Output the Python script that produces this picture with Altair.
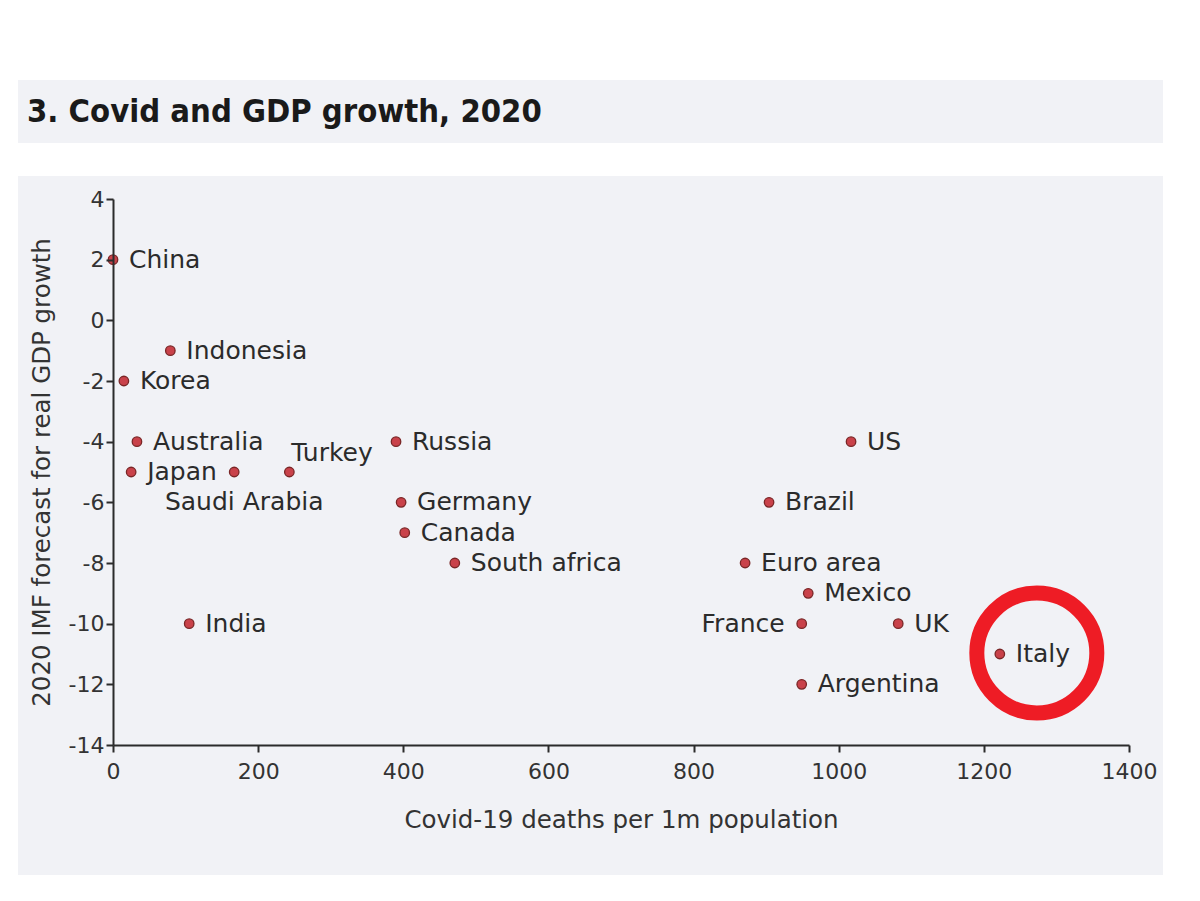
import pandas as pd
import altair as alt

# values
countries = ["China", "Indonesia", "Korea", "Australia", "Japan", "Saudi Arabia",
             "Turkey", "Russia", "Germany", "Canada", "South africa", "India",
             "US", "Brazil", "Euro area", "Mexico", "France", "UK", "Italy",
             "Argentina"]
deaths = [0, 79, 15, 33, 25, 167, 243, 390, 397, 402, 471, 105,
          1017, 904, 871, 958, 949, 1082, 1222, 949]
gdp = [2, -1, -2, -4, -5, -5, -5, -4, -6, -7, -8, -10,
       -4, -6, -8, -9, -10, -10, -11, -12]

x_ticks = [0, 200, 400, 600, 800, 1000, 1200, 1400]
y_ticks = [4, 2, 0, -2, -4, -6, -8, -10, -12, -14]

left_labels = ["France"]
below_labels = ["Saudi Arabia"]
above_labels = ["Turkey"]
highlight = "Italy"

title_text = "3. Covid and GDP growth, 2020"
x_title = "Covid-19 deaths per 1m population"
y_title = "2020 IMF forecast for real GDP growth"

TITLE_FONT = "DejaVu Sans Condensed, DejaVu Sans, sans-serif"
FONT = "DejaVu Sans, sans-serif"
BOX = "#f1f2f6"
INK = "#2b2b2b"

df = pd.DataFrame({"country": countries, "deaths": deaths, "gdp": gdp})
one = pd.DataFrame({"a": [0]})

x = alt.X("deaths:Q", title=x_title,
          scale=alt.Scale(domain=[0, 1400], nice=False),
          axis=alt.Axis(values=x_ticks, titlePadding=26, labelPadding=9, zindex=2,
                        labelFlush=False, labelExpr="toString(datum.value)"))
y = alt.Y("gdp:Q", title=y_title,
          scale=alt.Scale(domain=[-14, 4], nice=False),
          axis=alt.Axis(values=y_ticks, titlePadding=14, labelPadding=2, zindex=2,
                        labelFlush=False, labelExpr="toString(datum.value)"))

# grey boxes behind title and chart
chart_box = alt.Chart(one).mark_rect(color=BOX).encode(
    x=alt.value(-95), x2=alt.value(1050), y=alt.value(-23), y2=alt.value(676))
title_box = alt.Chart(one).mark_rect(color=BOX).encode(
    x=alt.value(-95), x2=alt.value(1050), y=alt.value(-119), y2=alt.value(-56))
title = alt.Chart(one).mark_text(
    text=title_text, font=TITLE_FONT, fontSize=32.5, fontWeight="bold",
    color="#1a1a1a", align="left", baseline="middle"
).encode(x=alt.value(-86), y=alt.value(-87))

points = alt.Chart(df).mark_point(
    filled=True, size=90, fill="#c9424a", stroke="#7a2626", strokeWidth=1.3,
    opacity=1
).encode(x=x, y=y)

base = alt.Chart(df).encode(x="deaths:Q", y="gdp:Q", text="country:N")
others = left_labels + below_labels + above_labels
txt = dict(baseline="middle", font=FONT, fontSize=25, color=INK)
right_txt = base.transform_filter(
    ~alt.FieldOneOfPredicate(field="country", oneOf=others)
).mark_text(align="left", dx=16, **txt)
left_txt = base.transform_filter(
    alt.FieldOneOfPredicate(field="country", oneOf=left_labels)
).mark_text(align="right", dx=-17, **txt)
below_txt = base.transform_filter(
    alt.FieldOneOfPredicate(field="country", oneOf=below_labels)
).mark_text(align="center", dx=10, dy=30, **txt)
above_txt = base.transform_filter(
    alt.FieldOneOfPredicate(field="country", oneOf=above_labels)
).mark_text(align="left", dx=2, dy=-19, **txt)

ring = alt.Chart(df).transform_filter(
    alt.datum.country == highlight
).mark_point(
    filled=False, size=14400, stroke="#ee1c25", strokeWidth=15, opacity=1,
    xOffset=37, yOffset=-1
).encode(x="deaths:Q", y="gdp:Q")

chart = alt.layer(
    chart_box, title_box, title, points, right_txt, left_txt, below_txt,
    above_txt, ring
).properties(
    width=1016, height=546,
    padding={"left": 10, "top": 72, "right": 0, "bottom": 0},
    background="white"
).configure_view(
    stroke=None
).configure_axis(
    grid=False, domainColor=INK, domainWidth=2, tickColor=INK,
    tickWidth=2, tickSize=7, labelFont=FONT, labelFontSize=22,
    labelColor="#333333", titleFont=FONT, titleFontSize=24.5,
    titleColor="#333333", titleFontWeight="normal"
)

chart.save("out.html", embed_options={"renderer": "svg", "actions": False})
